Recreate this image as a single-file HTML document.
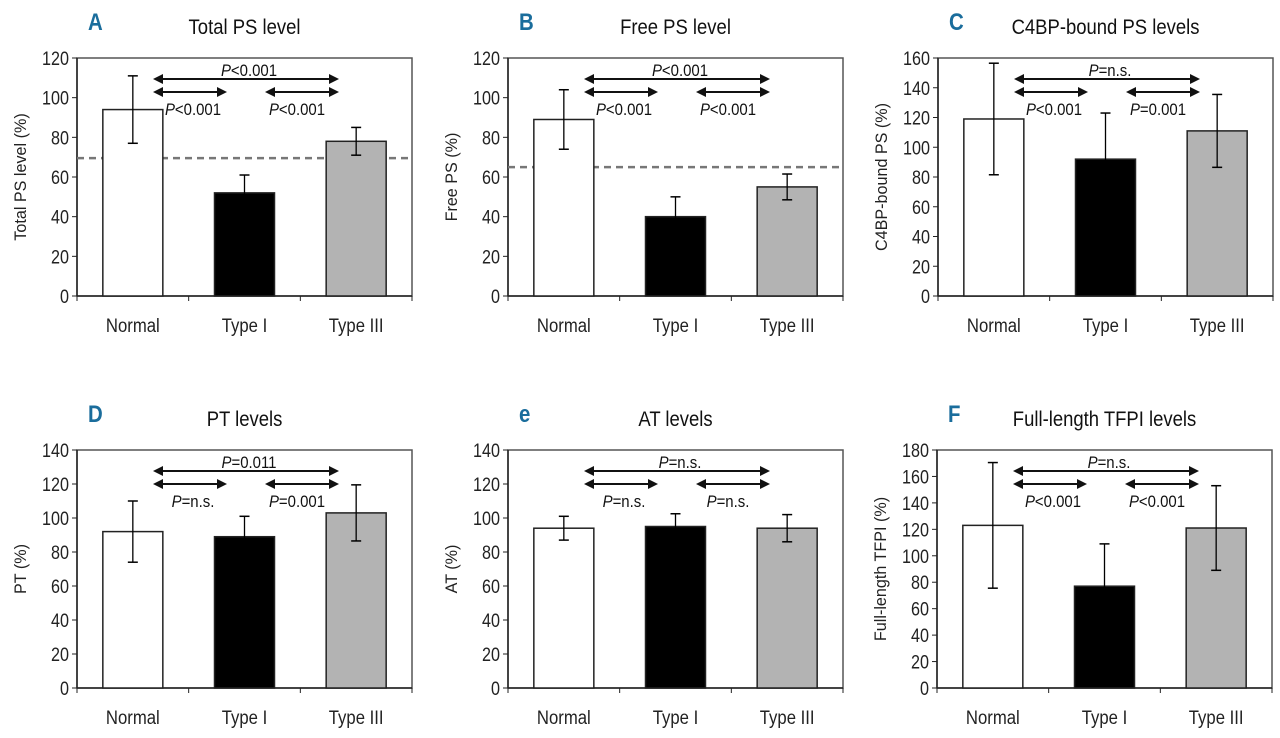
<!DOCTYPE html>
<html><head><meta charset="utf-8"><style>
html,body{margin:0;padding:0;background:#fff;}
svg{display:block;font-family:"Liberation Sans",sans-serif;}
</style></head><body>
<svg id="fig" width="1280" height="738" viewBox="0 0 1280 738"></svg>
<script>
const categories = ["Normal","Type I","Type III"];
const panelLetters = ["A","B","C","D","e","F"];
const panelTitles = ["Total PS level","Free PS level","C4BP-bound PS levels","PT levels","AT levels","Full-length TFPI levels"];
const yTitles = ["Total PS level (%)","Free PS (%)","C4BP-bound  PS (%)","PT (%)","AT (%)","Full-length TFPI (%)"];
const yMaxes = [120,120,160,140,140,180];
const meanA = [94,52,78];   const errA = [17,9,7];
const meanB = [89,40,55];   const errB = [15,10,6.5];
const meanC = [119,92,111]; const errC = [37.5,31,24.5];
const meanD = [92,89,103];  const errD = [18,12,16.5];
const meanE = [94,95,94];   const errE = [7,7.5,8];
const meanF = [123,77,121]; const errF = [47.5,32,32];
const refLines = [69.5,65,null,null,null,null];
const pTop = ["<0.001","<0.001","=n.s.","=0.011","=n.s.","=n.s."];
const pLeft = ["<0.001","<0.001","<0.001","=n.s.","=n.s.","<0.001"];
const pRight = ["<0.001","<0.001","=0.001","=0.001","=n.s.","<0.001"];
const means=[meanA,meanB,meanC,meanD,meanE,meanF];
const errs=[errA,errB,errC,errD,errE,errF];
const fills=["#fff","#000","#b3b3b3"];
const NS="http://www.w3.org/2000/svg";
const svg=document.getElementById('fig');
function mk(tag,attrs,parent){const e=document.createElementNS(NS,tag);for(const k in attrs)e.setAttribute(k,attrs[k]);(parent||svg).appendChild(e);return e;}
function txt(parent,x,y,sx,attrs,rot){
  const t=mk('text',Object.assign({x:0,y:0,transform:`translate(${x},${y})`+(rot?` rotate(${rot})`:'')+` scale(${sx},1)`},attrs),parent);
  return t;
}
const frames=[[77,58],[508,58],[938,58],[77,450],[508,450],[937,450]];
const W=335,H=238;
for(let p=0;p<6;p++){
  const [fx,fy]=frames[p];
  const g=mk('g',{});
  
  
  const ymax=yMaxes[p];
  const ys=v=>fy+H-v/ymax*H;
  const xs=i=>fx+W/3*(i+0.5);
  const L=txt(g,fx+11,fy-28,0.85,{'font-size':24,'font-weight':'bold',fill:'#1a6d9c'});
  L.textContent=panelLetters[p];
  
  
  const T=txt(g,fx+W/2,fy-24,0.88,{'font-size':21,'text-anchor':'middle',fill:'#111'});
  T.textContent=panelTitles[p];
  
  
  mk('rect',{x:fx,y:fy,width:W,height:H,fill:'none',stroke:'#555','stroke-width':1.5},g);
  mk('line',{x1:fx,y1:fy,x2:fx,y2:fy+H,stroke:'#222','stroke-width':1.5},g);
  mk('line',{x1:fx,y1:fy+H,x2:fx+W,y2:fy+H,stroke:'#222','stroke-width':1.5},g);
  for(let v=0;v<=ymax;v+=20){
    mk('line',{x1:fx-5,y1:ys(v),x2:fx,y2:ys(v),stroke:'#222'},g);
    const t=txt(g,fx-8,ys(v)+7,0.85,{'font-size':19,'text-anchor':'end',fill:'#222'});
    t.textContent=v;
    
    
  }
  for(let i=0;i<=3;i++){mk('line',{x1:fx+W/3*i,y1:fy+H,x2:fx+W/3*i,y2:fy+H+5,stroke:'#222'},g);}
  const yt=txt(g,fx-51,fy+H/2,0.95,{'font-size':17,'text-anchor':'middle',fill:'#222'},-90);
  yt.textContent=yTitles[p];
  
  
  if(refLines[p]!==null){
    const rl=mk('line',{x1:fx,x2:fx+W,y1:ys(refLines[p]),y2:ys(refLines[p]),stroke:'#777','stroke-width':2.5,'stroke-dasharray':'7,5'},g);
    
    
  }
  for(let i=0;i<3;i++){
    const m=means[p][i],e=errs[p][i],cx=xs(i);
    const b=mk('rect',{x:cx-30,y:ys(m),width:60,height:ys(0)-ys(m),fill:fills[i],stroke:'#222','stroke-width':1.5},g);
    
    
    mk('line',{x1:cx,x2:cx,y1:ys(m-e),y2:ys(m+e),stroke:'#000','stroke-width':1.3},g);
    mk('line',{x1:cx-5,x2:cx+5,y1:ys(m+e),y2:ys(m+e),stroke:'#000','stroke-width':1.5},g);
    mk('line',{x1:cx-5,x2:cx+5,y1:ys(m-e),y2:ys(m-e),stroke:'#000','stroke-width':1.5},g);
    const xl=txt(g,cx,fy+H+36,0.88,{'font-size':19,'text-anchor':'middle',fill:'#222'});
    xl.textContent=categories[i];
    
    
  }
  function arrow(x1,x2,y){
    mk('line',{x1:x1+8,x2:x2-8,y1:y,y2:y,stroke:'#111','stroke-width':2},g);
    mk('polygon',{points:`${x1},${y} ${x1+10},${y-5} ${x1+10},${y+5}`,fill:'#111'},g);
    mk('polygon',{points:`${x2},${y} ${x2-10},${y-5} ${x2-10},${y+5}`,fill:'#111'},g);
  }
  arrow(fx+76,fx+262,fy+21);
  arrow(fx+76,fx+150,fy+34);
  arrow(fx+188,fx+262,fy+34);
  function plab(x,y,s,n){
    const t=txt(g,x,y,0.88,{'font-size':17,'text-anchor':'middle',fill:'#111'});
    const a=mk('tspan',{'font-style':'italic'},t);a.textContent='P';
    const b=mk('tspan',{},t);b.textContent=s;
    
    
  }
  plab(fx+172,fy+18,pTop[p],'p-value-overall');
  plab(fx+116,fy+57,pLeft[p],'p-value-normal-vs-type1');
  plab(fx+220,fy+57,pRight[p],'p-value-type1-vs-type3');
}
</script>
</body></html>
